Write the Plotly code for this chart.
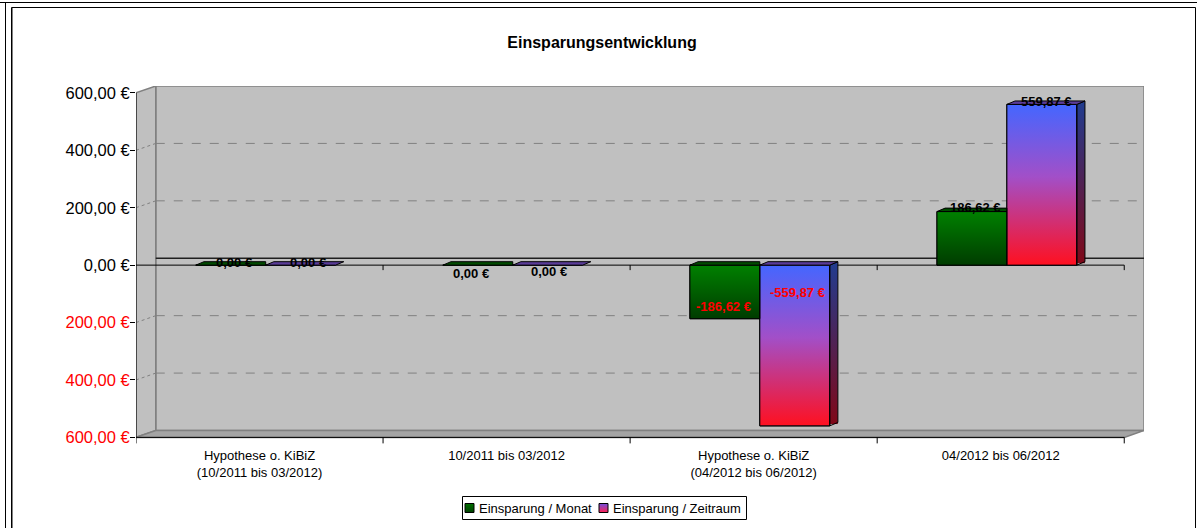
import base64
import plotly.graph_objects as go

# ---------------- data ----------------
categories = [
    "Hypothese o. KiBiZ<br>(10/2011 bis 03/2012)",
    "10/2011 bis 03/2012",
    "Hypothese o. KiBiZ<br>(04/2012 bis 06/2012)",
    "04/2012 bis 06/2012",
]
monat = [0.00, 0.00, -186.62, 186.62]
zeitraum = [0.00, 0.00, -559.87, 559.87]
series_names = ["Einsparung / Monat", "Einsparung / Zeitraum"]
y_ticks = [-600, -400, -200, 0, 200, 400, 600]
title_text = "Einsparungsentwicklung"

# ---------------- style / geometry ----------------
W, H = 1204, 528
ML, MR, MT, MB = 136, 60, 86, 82
PW, PH = W - ML - MR, H - MT - MB
FONT = "Liberation Sans, Arial, sans-serif"

BW = 0.283      # bar width (category units)
SH = 0.025      # shift of bar pair into depth
DXW, DYW = 0.08, 24     # wall depth offset (x cat units, y value units)
DXB, DYB = 0.033, 12    # bar depth offset
YMIN, YMAX = -600, 600
X_RANGE = [-0.5, 3.5 + DXW]
Y_RANGE = [-630, YMAX + DYW]
YS = PH / (Y_RANGE[1] - Y_RANGE[0])  # px per value unit

# label offsets in px (xshift, yshift), per series per category
LABEL_SHIFT = [
    [(3, 3), (-7, -8), (-1, 12), (4, 4)],
    [(7, 3), (1, -6), (3, 133), (5, 3)],
]

FACE = [  # front gradient, side gradient, top face colour, legend swatch gradient
    dict(front=[("0", "#008000"), ("1", "#003c00")],
         side=[("0", "#004000"), ("1", "#001c00")],
         top="#004a00", legend=[("0", "#007000"), ("1", "#004000")]),
    dict(front=[("0", "#4466ff"), ("0.45", "#a24fc8"), ("1", "#ff1020")],
         side=[("0", "#203c90"), ("1", "#800818")],
         top="#5a3c98", legend=[("0", "#7050e0"), ("1", "#ff2050")]),
]


def grad_uri(stops):
    st = "".join(f"<stop offset='{o}' stop-color='{c}'/>" for o, c in stops)
    svg = ("<svg xmlns='http://www.w3.org/2000/svg' width='20' height='100' "
           "viewBox='0 0 20 100' preserveAspectRatio='none'><defs>"
           f"<linearGradient id='g' x1='0' y1='0' x2='0' y2='1'>{st}</linearGradient>"
           "</defs><rect x='0' y='0' width='20' height='100' fill='url(#g)'/></svg>")
    return "data:image/svg+xml;base64," + base64.b64encode(svg.encode()).decode()


def eur(v):
    return f"{v:.2f}".replace(".", ",") + " €"


def xp(px):
    return (px - ML) / PW


def yp(py):
    return (H - MB - py) / PH


fig = go.Figure()
series = [monat, zeitraum]
offsets = [-BW + SH, SH]
for s, vals in enumerate(series):
    fig.add_trace(go.Bar(
        x=list(range(len(categories))), y=vals, name=series_names[s],
        width=BW, offset=offsets[s],
        marker=dict(color=FACE[s]["front"][0][1], line=dict(color="black", width=1)),
    ))

shapes = []
images = []
annotations = []

GRID = "#808080"
# back wall
shapes.append(dict(type="rect", xref="x", yref="y", layer="below",
                   x0=-0.5 + DXW, x1=3.5 + DXW, y0=YMIN + DYW, y1=YMAX + DYW,
                   fillcolor="#c0c0c0", line=dict(color=GRID, width=1.5)))
# side wall
shapes.append(dict(type="path", xref="x", yref="y", layer="below",
                   path=f"M -0.5,{YMIN} L {-0.5 + DXW},{YMIN + DYW} L {-0.5 + DXW},{YMAX + DYW} L -0.5,{YMAX} Z",
                   fillcolor="#c0c0c0", line=dict(color=GRID, width=1.5)))
# floor
shapes.append(dict(type="path", xref="x", yref="y", layer="below",
                   path=f"M -0.5,{YMIN} L 3.5,{YMIN} L {3.5 + DXW},{YMIN + DYW} L {-0.5 + DXW},{YMIN + DYW} Z",
                   fillcolor="#a4a4a4", line=dict(color=GRID, width=1.5)))
# gridlines
for v in y_ticks:
    if v in (YMIN, YMAX):
        continue
    if v == 0:
        shapes.append(dict(type="line", xref="x", yref="y", layer="below",
                           x0=-0.5 + DXW, x1=3.5 + DXW, y0=DYW, y1=DYW,
                           line=dict(color="#202020", width=1.5)))
        continue
    shapes.append(dict(type="line", xref="x", yref="y", layer="below",
                       x0=-0.5 + DXW, x1=3.5 + DXW, y0=v + DYW, y1=v + DYW,
                       line=dict(color=GRID, width=1, dash="dash")))
    shapes.append(dict(type="line", xref="x", yref="y", layer="below",
                       x0=-0.5, x1=-0.5 + DXW, y0=v, y1=v + DYW,
                       line=dict(color=GRID, width=1, dash="dot")))
# front zero axis with ticks
shapes.append(dict(type="line", xref="x", yref="y", layer="below",
                   x0=-0.5, x1=3.5, y0=0, y1=0, line=dict(color="black", width=1)))
for b in [0.5, 1.5, 2.5, 3.5]:
    shapes.append(dict(type="line", xref="x", yref="y", layer="below",
                       x0=b, x1=b, y0=0, y1=-5 / YS, line=dict(color="black", width=1)))
# front bottom edge with ticks
shapes.append(dict(type="line", xref="x", yref="y", layer="below",
                   x0=-0.5, x1=3.5, y0=YMIN, y1=YMIN, line=dict(color="black", width=1)))
for b in [0.5, 1.5, 2.5, 3.5]:
    shapes.append(dict(type="line", xref="x", yref="y", layer="below",
                       x0=b, x1=b, y0=YMIN, y1=YMIN - 6 / YS, line=dict(color="black", width=1)))
# y axis line
shapes.append(dict(type="line", xref="x", yref="y", layer="below",
                   x0=-0.5, x1=-0.5, y0=YMIN - 6 / YS, y1=YMAX, line=dict(color="black", width=1)))

# bars: gradient faces and 3D depth (right-most bar of a group shows its side)
above = []
n_series = len(series)
for s, vals in enumerate(series):
    last = (s == n_series - 1)
    for i, v in enumerate(vals):
        xl = i + offsets[s]
        xr = xl + BW
        vt, vb = max(v, 0), min(v, 0)
        if v != 0:
            images.append(dict(source=grad_uri(FACE[s]["front"]), xref="x", yref="y",
                               x=xl, y=vt, sizex=BW, sizey=vt - vb,
                               xanchor="left", yanchor="top", sizing="stretch", layer="above"))
            above.append(dict(type="rect", xref="x", yref="y", layer="above",
                              x0=xl, x1=xr, y0=vb, y1=vt, line=dict(color="black", width=1)))
            if last:
                images.append(dict(source=grad_uri(FACE[s]["side"]), xref="x", yref="y",
                                   x=xr, y=vt + DYB, sizex=DXB, sizey=vt - vb + DYB * 0.5,
                                   xanchor="left", yanchor="top", sizing="stretch", layer="above"))
                above.append(dict(type="path", xref="x", yref="y", layer="above",
                                  path=f"M {xr},{vt} L {xr + DXB},{vt + DYB} L {xr + DXB},{vb + DYB} L {xr},{vb} Z",
                                  line=dict(color="black", width=1)))
        if last:
            top_path = f"M {xl},{vt} L {xr},{vt} L {xr + DXB},{vt + DYB} L {xl + DXB},{vt + DYB} Z"
        else:
            top_path = f"M {xl},{vt} L {xr},{vt} L {xr},{vt + DYB} L {xl + DXB},{vt + DYB} Z"
        above.append(dict(type="path", xref="x", yref="y", layer="above", path=top_path,
                          fillcolor=FACE[s]["top"], line=dict(color="black", width=1)))
        dx, dy = LABEL_SHIFT[s][i]
        annotations.append(dict(x=xl + BW / 2, y=v, xref="x", yref="y", text=f"<b>{eur(v)}</b>",
                                showarrow=False, xshift=dx, yshift=dy,
                                font=dict(family=FONT, size=13, color="red" if v < 0 else "black")))
shapes += above

# chart frame
shapes.append(dict(type="line", xref="paper", yref="paper", x0=xp(0), x1=xp(1197), y0=yp(2.5), y1=yp(2.5),
                   line=dict(color="black", width=1)))
shapes.append(dict(type="line", xref="paper", yref="paper", x0=xp(5.5), x1=xp(5.5), y0=yp(2.5), y1=yp(530),
                   line=dict(color="black", width=1)))
shapes.append(dict(type="rect", xref="paper", yref="paper", x0=xp(11.5), x1=xp(1195.5), y0=yp(7.5), y1=yp(540),
                   line=dict(color="black", width=1)))
shapes.append(dict(type="line", xref="paper", yref="paper", x0=xp(12.5), x1=xp(12.5), y0=yp(8), y1=yp(530),
                   line=dict(color="#808080", width=1)))

# legend (box, swatches, names)
LEG_BOX = (462.5, 496.5, 746.5, 519.5)
LEG_ITEMS = [(465, 477), (599, 611)]   # swatch left px, text left px
LEG_CY = 508
shapes.append(dict(type="rect", xref="paper", yref="paper", layer="above",
                   x0=xp(LEG_BOX[0]), x1=xp(LEG_BOX[2]), y0=yp(LEG_BOX[3]), y1=yp(LEG_BOX[1]),
                   line=dict(color="black", width=1)))
for s, (sx, tx) in enumerate(LEG_ITEMS):
    images.append(dict(source=grad_uri(FACE[s]["legend"]), xref="paper", yref="paper",
                       x=xp(sx), y=yp(LEG_CY - 4.5), sizex=9 / PW, sizey=9 / PH,
                       xanchor="left", yanchor="top", sizing="stretch", layer="above"))
    shapes.append(dict(type="rect", xref="paper", yref="paper", layer="above",
                       x0=xp(sx), x1=xp(sx + 9), y0=yp(LEG_CY + 4.5), y1=yp(LEG_CY - 4.5),
                       line=dict(color="black", width=1)))
    annotations.append(dict(x=xp(tx), y=yp(LEG_CY), xref="paper", yref="paper",
                            xanchor="left", yanchor="middle", text=series_names[s], showarrow=False,
                            font=dict(family=FONT, size=13, color="black")))

tick_text = [
    (f"<span style='color:#ff0000'>{eur(abs(v))}</span>" if v < 0 else eur(v)) for v in y_ticks
]

fig.update_layout(
    width=W, height=H,
    margin=dict(l=ML, r=MR, t=MT, b=MB, autoexpand=False),
    paper_bgcolor="white", plot_bgcolor="white",
    barmode="overlay",
    font=dict(family=FONT, color="black"),
    title=dict(text=f"<b>{title_text}</b>", x=0.5, xref="container", xanchor="center",
               y=1 - 42 / H, yref="container", yanchor="middle",
               font=dict(family=FONT, size=16, color="black")),
    xaxis=dict(range=X_RANGE, tickmode="array", tickvals=list(range(len(categories))),
               ticktext=categories, showgrid=False, zeroline=False, showline=False,
               ticks="", automargin=False, tickfont=dict(family=FONT, size=13, color="black")),
    yaxis=dict(range=Y_RANGE, tickmode="array", tickvals=y_ticks, ticktext=tick_text,
               showgrid=False, zeroline=False, showline=False, ticks="outside", automargin=False,
               ticklen=5, tickcolor="black", ticklabelstandoff=-3,
               tickfont=dict(family=FONT, size=16.5, color="black")),
    shapes=shapes, images=images, annotations=annotations,
    showlegend=False,
)

fig.write_html("out.html", config={"displayModeBar": False},
               post_script="document.body.style.margin='0px';")
